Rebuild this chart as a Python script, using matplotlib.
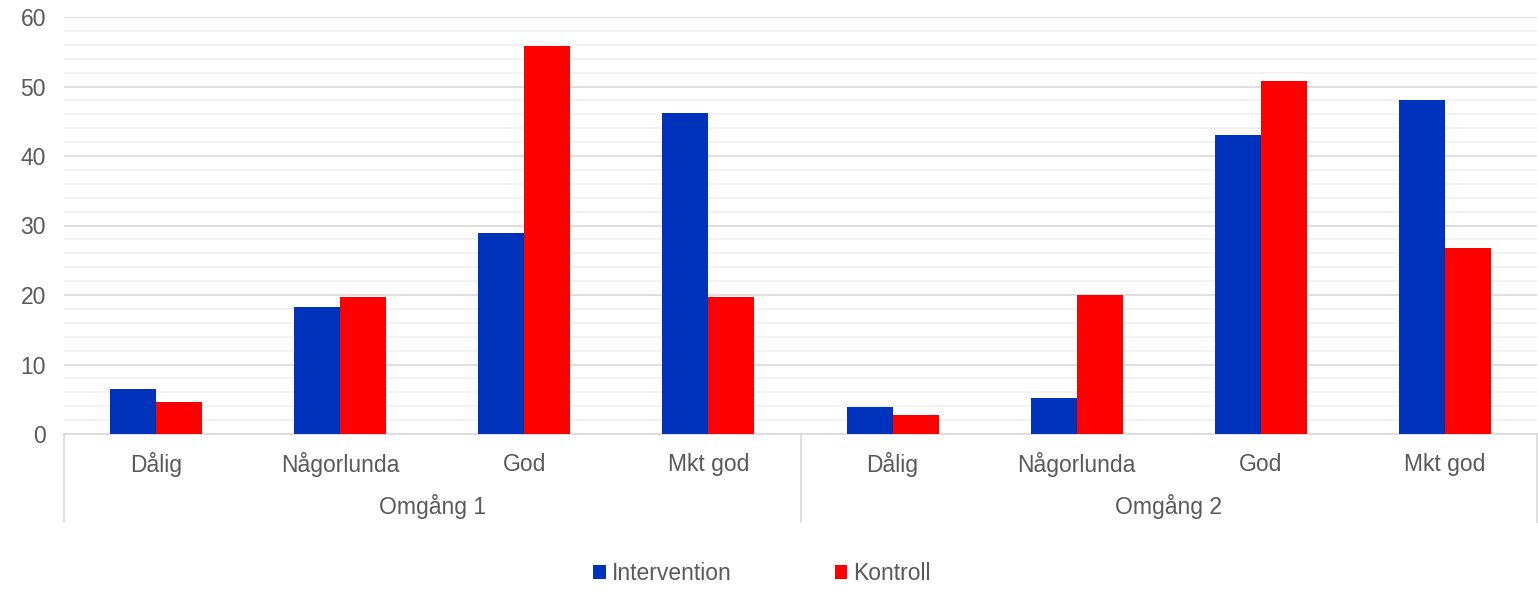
import matplotlib.pyplot as plt
import matplotlib.transforms as mtransforms
from matplotlib.ticker import MultipleLocator
import numpy as np

plt.rcParams['font.family'] = ['Liberation Sans', 'DejaVu Sans']

rounds = ["Omgång 1", "Omgång 2"]
categories = ["Dålig", "Någorlunda", "God", "Mkt god"]
intervention = [6.5, 18.3, 28.9, 46.2, 3.9, 5.2, 43.0, 48.1]
kontroll = [4.6, 19.7, 55.8, 19.7, 2.7, 20.0, 50.8, 26.8]

blue = "#0033BB"
red = "#FF0000"
text_col = "#595959"
grid_col = "#D9D9D9"
fs = 16.5

fig = plt.figure(figsize=(15.38, 5.91), dpi=100)
ax = fig.add_axes([64 / 1538, 157 / 591, 1 - 65 / 1538, 417 / 591])

x = np.arange(len(intervention))
w = 0.25
ax.bar(x - w / 2, intervention, w, color=blue, label="Intervention", zorder=3)
ax.bar(x + w / 2, kontroll, w, color=red, label="Kontroll", zorder=3)

ax.set_xlim(-0.5, len(x) - 0.5)
ax.set_ylim(0, 60)
ax.yaxis.set_major_locator(MultipleLocator(10))
ax.yaxis.set_minor_locator(MultipleLocator(2))
ax.grid(axis="y", which="major", color=grid_col, linewidth=1.2, zorder=0)
ax.grid(axis="y", which="minor", color="#F0F0F0", linewidth=1.2, zorder=0)
ax.tick_params(axis="y", which="both", length=0, labelsize=fs, labelcolor=text_col, pad=13)
ax.set_xticks([])
for s in ["top", "right", "left"]:
    ax.spines[s].set_visible(False)
ax.spines["bottom"].set_color(grid_col)
ax.spines["bottom"].set_linewidth(1.2)

# two-level category axis
trans = mtransforms.blended_transform_factory(ax.transData, ax.transAxes)
labels = categories * len(rounds)
for xi, lab in zip(x, labels):
    ax.text(xi, -0.072, lab, transform=trans, ha="center", va="center",
            fontsize=fs, color=text_col)
n = len(categories)
for i, r in enumerate(rounds):
    ax.text(i * n + (n - 1) / 2, -0.175, r, transform=trans, ha="center",
            va="center", fontsize=fs, color=text_col)
for xb in [-0.5, n - 0.5, 2 * n - 0.5]:
    ax.plot([xb, xb], [0, -0.21], transform=trans, color=grid_col,
            linewidth=1.2, clip_on=False)

fig.legend(loc="center", bbox_to_anchor=(0.4955, 0.03), ncol=2, frameon=False,
           fontsize=fs, labelcolor=text_col, handlelength=0.55, handleheight=0.55,
           handletextpad=0.27, columnspacing=4.5)

fig.savefig("out.png", dpi=100)
